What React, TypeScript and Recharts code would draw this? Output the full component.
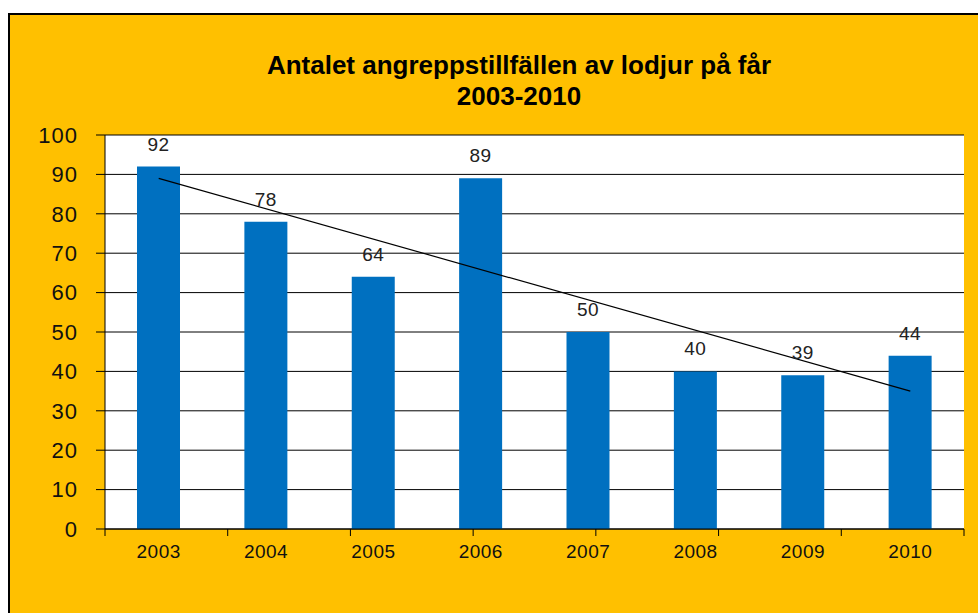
import { BarChart, Bar, Line, XAxis, YAxis, CartesianGrid, LabelList } from 'recharts';

// år
const years = ['2003', '2004', '2005', '2006', '2007', '2008', '2009', '2010'];
// antal angreppstillfällen
const attacks = [92, 78, 64, 89, 50, 40, 39, 44];
// linjär trend, avläst vid första och sista året
const trend = [89, null, null, null, null, null, null, 35];
const yTicks = [0, 10, 20, 30, 40, 50, 60, 70, 80, 90, 100];
const boundaryTicks = [0, 1, 2, 3, 4, 5, 6, 7, 8];

const data = years.map((year, i) => ({ year, attacks: attacks[i], trend: trend[i] }));

const FONT = '"Liberation Sans", Arial, sans-serif';

export default function App() {
  return (
    <>
      <style>{`body{margin:0;overflow:hidden}`}</style>
      <div
        style={{
          position: 'relative',
          marginLeft: 8,
          marginTop: 13,
          width: 970,
          height: 600,
          boxSizing: 'border-box',
          background: '#FFC000',
          borderLeft: '2px solid #000',
          borderTop: '2px solid #000',
          fontFamily: FONT,
        }}
      >
        <div
          style={{
            position: 'absolute',
            left: 0,
            top: 35,
            width: 1018,
            textAlign: 'center',
            fontWeight: 'bold',
            fontSize: 26,
            lineHeight: '31px',
            color: '#000',
          }}
        >
          Antalet angreppstillfällen av lodjur på får
          <br />
          2003-2010
        </div>
        <BarChart
          width={968}
          height={598}
          data={data}
          margin={{ top: 120, right: 14, bottom: 46, left: 35 }}
          style={{ position: 'absolute', left: 0, top: 0 }}
        >
          <CartesianGrid
            horizontal
            vertical={false}
            stroke="#000"
            fill="#fff"
            fillOpacity={1}
            xAxisId="b"
          />
          {/* kantmarkeringar mellan kategorierna */}
          <XAxis
            xAxisId="a"
            type="number"
            domain={[0, 8]}
            ticks={boundaryTicks}
            height={8}
            tickSize={7}
            tickFormatter={() => ''}
            axisLine={{ stroke: '#000' }}
            tickLine={{ stroke: '#000' }}
            allowDataOverflow
          />
          <XAxis
            xAxisId="b"
            dataKey="year"
            height={30}
            axisLine={false}
            tickLine={false}
            tickSize={0}
            tickMargin={8}
            tick={{ fontSize: 19, fill: '#111', fontFamily: FONT, letterSpacing: 0.5 }}
          />
          <YAxis
            domain={[0, 100]}
            ticks={yTicks}
            width={60}
            tickSize={9}
            tickMargin={18}
            interval={0}
            axisLine={{ stroke: '#000' }}
            tickLine={{ stroke: '#000' }}
            tick={{ fontSize: 22, fill: '#111', fontFamily: FONT, letterSpacing: 1 }}
          />
          <Bar dataKey="attacks" xAxisId="b" fill="#0070C0" barSize={43} isAnimationActive={false}>
            <LabelList
              dataKey="attacks"
              position="top"
              offset={16}
              style={{ fontSize: 19, fill: '#222', fontFamily: FONT, letterSpacing: 0.5 }}
            />
          </Bar>
          <Line
            dataKey="trend"
            xAxisId="b"
            type="linear"
            stroke="#000"
            strokeWidth={1.2}
            dot={false}
            connectNulls
            isAnimationActive={false}
          />
        </BarChart>
      </div>
    </>
  );
}
